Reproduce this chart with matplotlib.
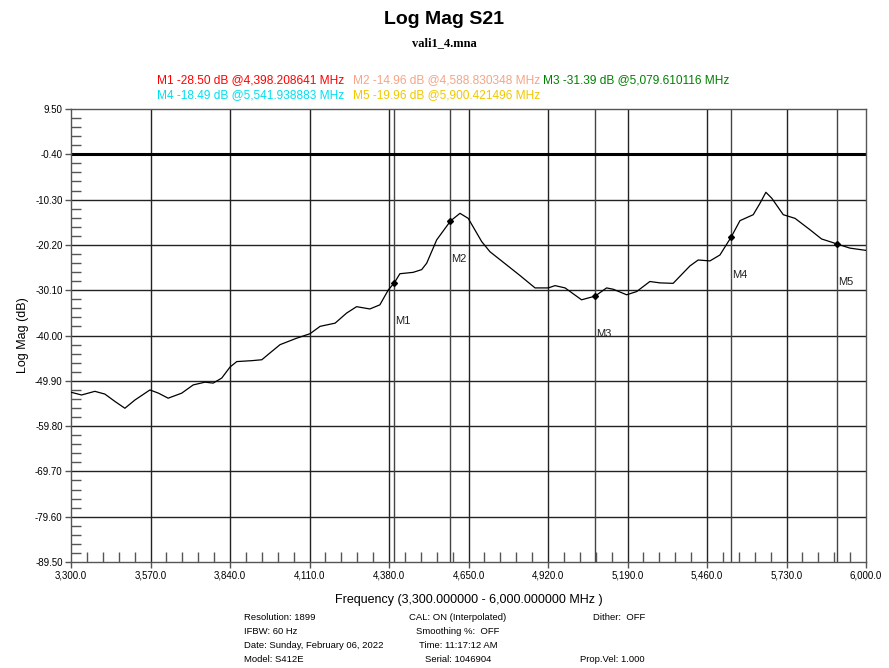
import numpy as np
import matplotlib.pyplot as plt
from matplotlib.ticker import FixedLocator

# trace (MHz, dB)
freq = [3300, 3336, 3381, 3415, 3449, 3483, 3517, 3568, 3597, 3630, 3676, 3715,
        3755, 3783, 3812, 3840, 3863, 3914, 3948, 3976, 4010, 4066, 4112, 4146,
        4197, 4236, 4270, 4315, 4349, 4378, 4398, 4417, 4462, 4491, 4508, 4542,
        4589, 4621, 4649, 4695, 4723, 4780, 4825, 4876, 4921, 4944, 4978, 5034,
        5080, 5119, 5142, 5187, 5221, 5266, 5300, 5345, 5402, 5430, 5470, 5504,
        5542, 5572, 5617, 5640, 5660, 5680, 5719, 5759, 5810, 5849, 5900, 5945, 6000]
mag = [-52.4, -53.0, -52.2, -52.8, -54.4, -55.9, -54.1, -51.9, -52.6, -53.7, -52.6, -50.8,
       -50.2, -50.4, -49.3, -46.9, -45.7, -45.5, -45.3, -43.8, -42.0, -40.6, -39.6, -38.0,
       -37.3, -35.1, -33.7, -34.2, -33.3, -30.0, -28.50, -26.5, -26.2, -25.6, -24.2, -19.1,
       -14.96, -13.3, -14.4, -19.5, -21.7, -24.6, -26.9, -29.6, -29.6, -29.1, -29.6, -32.2,
       -31.39, -29.6, -29.9, -31.1, -30.4, -28.2, -28.5, -28.6, -24.8, -23.5, -23.7, -22.4,
       -18.49, -14.9, -13.6, -11.1, -8.7, -10.0, -13.6, -14.4, -16.9, -18.9, -19.96, -20.9, -21.4]

markers = ["M1", "M2", "M3", "M4", "M5"]
marker_freq = [4398.208641, 4588.830348, 5079.610116, 5541.938883, 5900.421496]
marker_val = [-28.50, -14.96, -31.39, -18.49, -19.96]
marker_colors = ["#ff0000", "#f7a486", "#008000", "#00e0f0", "#f0c800"]

x_ticks = [3300, 3570, 3840, 4110, 4380, 4650, 4920, 5190, 5460, 5730, 6000]
y_ticks = [9.5, -0.4, -10.3, -20.2, -30.1, -40.0, -49.9, -59.8, -69.7, -79.6, -89.5]
limit_line = -0.4

footer_left = ["Resolution: 1899", "IFBW: 60 Hz", "Date: Sunday, February 06, 2022", "Model: S412E"]
footer_mid = ["CAL: ON (Interpolated)", "Smoothing %:  OFF", "Time: 11:17:12 AM", "Serial: 1046904"]
footer_right = ["Dither:  OFF", "", "", "Prop.Vel: 1.000"]

plt.rcParams['font.family'] = ['Liberation Sans', 'DejaVu Sans']

fig = plt.figure(figsize=(8.89, 6.68), dpi=100)
ax = fig.add_axes([71 / 889, 1 - 562 / 668, 795 / 889, 453 / 668])

ax.set_xlim(3300, 6000)
ax.set_ylim(-89.5, 9.5)

# grid
for xt in x_ticks[1:-1]:
    ax.axvline(xt, color="#222222", lw=1.0, zorder=1)
for yt in y_ticks[1:-1]:
    ax.axhline(yt, color="#222222", lw=1.0, zorder=1)
ax.axhline(limit_line, color="black", lw=2.2, zorder=2)

# marker lines
for f in marker_freq:
    ax.axvline(f, color="#444444", lw=1.0, zorder=1)

ax.plot(freq, mag, color="black", lw=0.9, zorder=3)

for name, f, v in zip(markers, marker_freq, marker_val):
    ax.plot(f, v, marker="D", ms=3, color="black", zorder=4)
    ax.annotate(name, (f, v), xytext=(1, -38), textcoords="offset pixels",
                fontsize=8, color="#222222", ha="left", va="center")

for s in ax.spines.values():
    s.set_color("#555555")
    s.set_linewidth(1.0)

# 4 minor ticks between each pair of major ticks
x_minor = np.linspace(x_ticks[0], x_ticks[-1], 51)
y_minor = np.linspace(y_ticks[-1], y_ticks[0], 51)
ax.xaxis.set_major_locator(FixedLocator(x_ticks))
ax.xaxis.set_minor_locator(FixedLocator(x_minor))
ax.yaxis.set_major_locator(FixedLocator(y_ticks))
ax.yaxis.set_minor_locator(FixedLocator(y_minor))
ax.set_xticklabels([f"{t:,.1f}" for t in x_ticks])
ax.set_yticklabels([f"{t:.2f}" for t in y_ticks])
ax.tick_params(which="major", direction="out", length=4, width=1, color="#555555",
               labelsize=7, pad=2)
ax.tick_params(which="minor", direction="in", length=7, width=1, color="#555555")

ax.set_xlabel("Frequency (3,300.000000 - 6,000.000000 MHz )", fontsize=9, labelpad=10)
ax.set_ylabel("Log Mag (dB)", fontsize=9, labelpad=4)

fig.text(0.5, 1 - 20 / 668, "Log Mag S21", ha="center", va="center",
         fontsize=14, fontweight="bold")
fig.text(0.5, 1 - 43 / 668, "vali1_4.mna", ha="center", va="center",
         fontsize=9, fontweight="bold", family="Liberation Serif")

# marker readouts
hdr_x = [157, 353, 543, 157, 353]
hdr_y = [80, 80, 80, 95, 95]
for name, f, v, c, hx, hy in zip(markers, marker_freq, marker_val, marker_colors, hdr_x, hdr_y):
    fig.text(hx / 889, 1 - hy / 668, f"{name} {v:.2f} dB @{f:,.6f} MHz",
             color=c, fontsize=8.6, ha="left", va="center")

rows_y = [618, 631, 645, 659]
for ry, a, b, c in zip(rows_y, footer_left, footer_mid, footer_right):
    fig.text(244 / 889, 1 - ry / 668, a, fontsize=6.8, ha="left", va="center")
    fig.text(458 / 889, 1 - ry / 668, b, fontsize=6.8, ha="center", va="center")
    if c:
        fig.text(645 / 889, 1 - ry / 668, c, fontsize=6.8, ha="right", va="center")

fig.savefig("out.png", dpi=100)
